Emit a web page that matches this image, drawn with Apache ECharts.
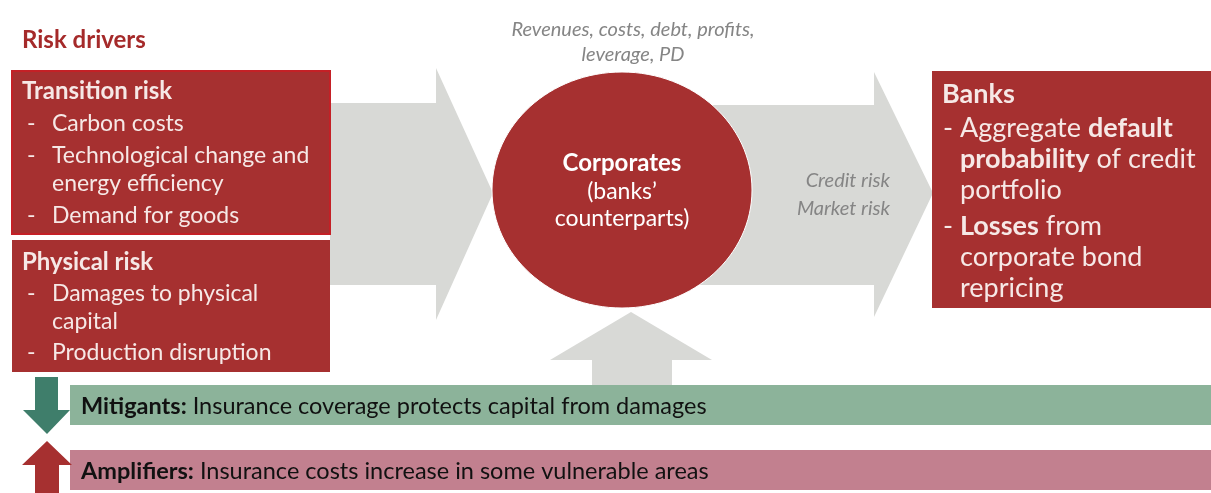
<!DOCTYPE html>
<html>
<head>
<meta charset="utf-8">
<script src="https://cdn.jsdelivr.net/npm/echarts@6/dist/echarts.min.js"></script>
<style>
  html, body { margin: 0; padding: 0; background: #fff; }
  #main { width: 1211px; height: 493px; }
</style>
</head>
<body>
<div id="main"></div>
<script>
var chartDom = document.getElementById('main');
var myChart = echarts.init(chartDom);

// texts of the diagram
var title = 'Risk drivers';
var transitionHead = 'Transition risk';
var transitionItems = ['Carbon costs', 'Technological change and', 'energy efficiency', 'Demand for goods'];
var transitionDash = [true, true, false, true];
var physicalHead = 'Physical risk';
var physicalItems = ['Damages to physical', 'capital', 'Production disruption'];
var physicalDash = [true, false, true];
var topNote = ['Revenues, costs, debt, profits,', 'leverage, PD'];
var circleLines = ['Corporates', '(banks\u2019', 'counterparts)'];
var channelLines = ['Credit risk', 'Market risk'];
var banksHead = 'Banks';
var banksLines = [
    'Aggregate {b|default}',
    '{b|probability} of credit',
    'portfolio',
    '{b|Losses} from',
    'corporate bond',
    'repricing'
];
var banksDash = [true, false, false, true, false, false];
var mitigants = ['Mitigants:', ' Insurance coverage protects capital from damages'];
var amplifiers = ['Amplifiers:', ' Insurance costs increase in some vulnerable areas'];

var boxRed = '#a63030';
var lightText = '#f6e8e6';
var grey = '#d8d9d6';
var font = 'Lato, "Open Sans", sans-serif';
var itemSize = 23;
var bankSize = 27;

var els = [];

// grey arrows (drawn first, under boxes)
els.push({
    type: 'polygon',
    shape: { points: [[330, 103], [436, 103], [436, 68], [493, 193], [436, 320], [436, 285], [330, 285]] },
    style: { fill: grey }
});
els.push({
    type: 'polygon',
    shape: { points: [[700, 105], [874, 105], [874, 72], [933, 193], [874, 317], [874, 285], [700, 285]] },
    style: { fill: grey }
});
els.push({
    type: 'polygon',
    shape: { points: [[592, 386], [592, 360], [550, 360], [631, 312], [712, 360], [672, 360], [672, 386]] },
    style: { fill: grey }
});

// circle
els.push({
    type: 'ellipse',
    shape: { cx: 622, cy: 190, rx: 130, ry: 118 },
    style: { fill: boxRed, stroke: '#ffffff', lineWidth: 1 }
});

// title
els.push({
    type: 'text', x: 22, y: 40,
    style: { text: title, fill: '#a52a2a', font: 'bold 24px ' + font, textVerticalAlign: 'middle' }
});

function addText(x, y, t, size, opts) {
    opts = opts || {};
    els.push({ type: 'text', x: x, y: y,
        style: {
            text: t, fill: opts.fill || lightText,
            font: (opts.italic ? 'italic ' : '') + (opts.bold ? 'bold ' : '') + size + 'px ' + font,
            align: opts.align || 'left', textVerticalAlign: 'middle', rich: opts.rich
        } });
}

// transition risk box
els.push({
    type: 'rect',
    shape: { x: 12, y: 71, width: 318, height: 163 },
    style: { fill: boxRed, stroke: '#c42026', lineWidth: 2 }
});
addText(22, 91, transitionHead, 24, { bold: true });
var transY = [124, 156, 184, 216];
transitionItems.forEach(function (t, i) {
    if (transitionDash[i]) addText(27, transY[i], '-', itemSize);
    addText(52, transY[i], t, itemSize);
});

// physical risk box
els.push({
    type: 'rect',
    shape: { x: 12, y: 240, width: 318, height: 132 },
    style: { fill: boxRed }
});
addText(22, 262, physicalHead, 24, { bold: true });
var physY = [294, 322, 353];
physicalItems.forEach(function (t, i) {
    if (physicalDash[i]) addText(27, physY[i], '-', itemSize);
    addText(52, physY[i], t, itemSize);
});

// top italic note
var noteY = [30, 55];
topNote.forEach(function (t, i) {
    addText(633, noteY[i], t, 20, { italic: true, fill: '#858585', align: 'center' });
});

// circle text
var circY = [163, 192, 219];
circleLines.forEach(function (t, i) {
    addText(622, circY[i], t, i === 0 ? 24 : 23, { bold: i === 0, fill: '#ffffff', align: 'center' });
});

// channel text
var chanY = [181, 209];
channelLines.forEach(function (t, i) {
    addText(890, chanY[i], t, 20, { italic: true, fill: '#858585', align: 'right' });
});

// banks box
els.push({
    type: 'rect',
    shape: { x: 932, y: 71, width: 280, height: 237 },
    style: { fill: boxRed }
});
addText(942, 94, banksHead, bankSize, { bold: true });
var bankY = [128, 159, 190, 226, 257, 288];
banksLines.forEach(function (t, i) {
    if (banksDash[i]) addText(943, bankY[i], '-', bankSize);
    addText(960, bankY[i], t, bankSize, {
        rich: { b: { fontWeight: 'bold', fontSize: bankSize, fontFamily: font, fill: lightText } }
    });
});

// mitigants / amplifiers bars
els.push({ type: 'rect', shape: { x: 70, y: 385, width: 1141, height: 40 }, style: { fill: '#8cb39a' } });
els.push({ type: 'rect', shape: { x: 70, y: 450, width: 1141, height: 40 }, style: { fill: '#c2808f' } });
var barRich = {
    b: { fontWeight: 'bold', fontSize: 23.5, fontFamily: font, fill: '#111' },
    n: { fontSize: 23.5, fontFamily: font, fill: '#111' }
};
addText(81, 406, '{b|' + mitigants[0] + '}{n|' + mitigants[1] + '}', 23.5, { rich: barRich });
addText(81, 471, '{b|' + amplifiers[0] + '}{n|' + amplifiers[1] + '}', 23.5, { rich: barRich });

// small side arrows
els.push({
    type: 'polygon',
    shape: { points: [[35, 377], [58, 377], [58, 410], [70, 410], [47, 434], [23, 410], [35, 410]] },
    style: { fill: '#3f7e6b' }
});
els.push({
    type: 'polygon',
    shape: { points: [[35, 493], [35, 465], [22, 465], [47, 441], [72, 465], [59, 465], [59, 493]] },
    style: { fill: '#a63030' }
});

option = {
    backgroundColor: '#ffffff',
    graphic: { elements: els }
};

if (option && typeof option === 'object') {
    myChart.setOption(option);
}
</script>
</body>
</html>
